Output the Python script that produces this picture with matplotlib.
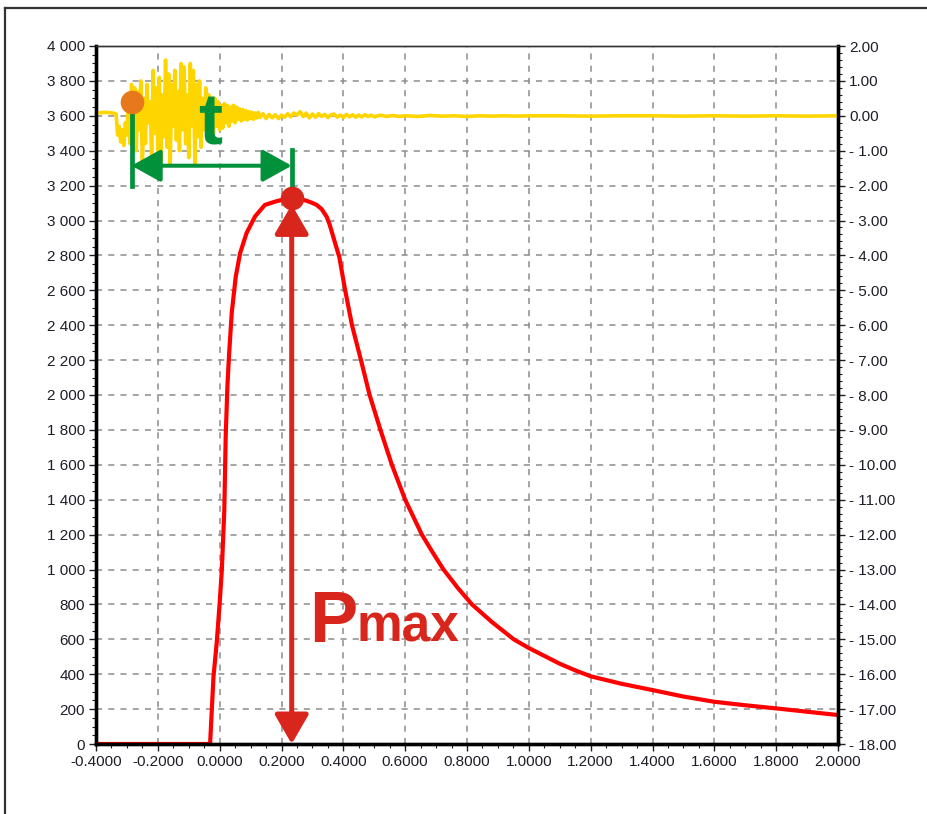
import matplotlib
matplotlib.use("Agg")
import matplotlib.pyplot as plt
from matplotlib.ticker import MultipleLocator, AutoMinorLocator, FuncFormatter
from matplotlib.lines import Line2D
import numpy as np

# pressure curve (left axis)
time_p = [-0.4, -0.031, -0.020, -0.0096, 0.0, 0.007, 0.015, 0.0195, 0.025, 0.030,
          0.039, 0.052, 0.066, 0.087, 0.114, 0.146, 0.179, 0.205, 0.233, 0.255,
          0.281, 0.298, 0.314, 0.330, 0.346, 0.356, 0.366, 0.376, 0.387, 0.396,
          0.406, 0.428, 0.457, 0.485, 0.520, 0.557, 0.600, 0.654, 0.690, 0.724,
          0.770, 0.816, 0.880, 0.951, 1.000, 1.050, 1.100, 1.150, 1.200, 1.300,
          1.400, 1.500, 1.600, 1.700, 1.800, 1.900, 2.000]
pressure = [0, 0, 386, 579, 808, 997, 1341, 1761, 2048, 2220,
            2470, 2678, 2812, 2928, 3022, 3089, 3108, 3120, 3129, 3125,
            3113, 3102, 3089, 3065, 3022, 2975, 2915, 2855, 2790, 2700,
            2600, 2400, 2200, 2000, 1800, 1600, 1400, 1200, 1095, 1000,
            895, 800, 700, 600, 550, 505, 460, 422, 388, 345,
            309, 272, 242, 222, 204, 185, 166]

# acoustic / vibration signal (right axis)
time_s = [-0.400, -0.370, -0.345, -0.335, -0.330, -0.325, -0.320, -0.315, -0.310, -0.305,
          -0.300, -0.295, -0.290, -0.285, -0.280, -0.275, -0.270, -0.265, -0.260, -0.255,
          -0.250, -0.245, -0.240, -0.235, -0.230, -0.225, -0.220, -0.215, -0.210, -0.205,
          -0.200, -0.195, -0.190, -0.185, -0.180, -0.175, -0.170, -0.165, -0.160, -0.155,
          -0.150, -0.145, -0.140, -0.135, -0.130, -0.125, -0.120, -0.115, -0.110, -0.105,
          -0.100, -0.095, -0.090, -0.085, -0.080, -0.075, -0.070, -0.065, -0.060, -0.055,
          -0.050, -0.045, -0.040, -0.035, -0.030, -0.025, -0.020, -0.015, -0.010, -0.005,
          0.000, 0.005, 0.010, 0.015, 0.020, 0.025, 0.030, 0.035, 0.040, 0.045,
          0.050, 0.055, 0.060, 0.065, 0.070, 0.075, 0.080, 0.085, 0.090, 0.095,
          0.100, 0.105, 0.110, 0.115, 0.120, 0.125, 0.130, 0.140, 0.150, 0.160,
          0.170, 0.180, 0.190, 0.200, 0.210, 0.220, 0.230, 0.240, 0.250, 0.260,
          0.270, 0.280, 0.290, 0.300, 0.310, 0.320, 0.330, 0.340, 0.350, 0.360,
          0.370, 0.380, 0.390, 0.400, 0.410, 0.420, 0.430, 0.440, 0.450, 0.460,
          0.470, 0.480, 0.490, 0.500, 0.520, 0.540, 0.560, 0.580, 0.600, 0.640,
          0.680, 0.720, 0.760, 0.800, 0.840, 0.880, 0.920, 0.960, 1.000, 1.100,
          1.200, 1.300, 1.400, 1.500, 1.600, 1.700, 1.800, 1.900, 2.000]
signal = [0.08, 0.10, 0.08, 0.05, -0.55, -0.30, -0.75, -0.40, -0.85, -0.20,
          -0.55, 0.60, -0.80, 0.90, -0.30, 0.80, -1.00, 0.70, -0.40, 1.00,
          -1.50, 0.50, -0.80, 0.90, -0.20, 0.40, -1.20, 1.30, -0.50, 0.80,
          -1.00, 1.10, -1.30, 0.60, -0.60, 1.60, -0.90, 1.20, -1.40, 0.90,
          -0.30, 1.30, -0.70, 0.70, -1.00, 1.50, -0.40, 1.40, -0.80, 0.60,
          -1.20, 1.50, -0.30, 1.30, -1.40, 0.90, -0.60, 1.00, -0.90, 0.50,
          -0.40, 0.80, -0.70, 0.60, -0.20, 0.45, -0.50, 0.50, -0.30, 0.40,
          -0.40, 0.30, -0.35, 0.35, -0.20, 0.30, -0.30, 0.25, -0.15, 0.30,
          -0.20, 0.25, -0.10, 0.20, -0.15, 0.18, -0.10, 0.15, -0.12, 0.12,
          -0.08, 0.10, -0.10, 0.08, -0.06, 0.10, -0.05, 0.06, -0.08, 0.04,
          -0.06, 0.03, -0.08, 0.02, -0.04, 0.06, -0.03, 0.08, 0.02, 0.12,
          -0.02, 0.08, -0.06, 0.05, -0.04, 0.06, -0.02, 0.04, -0.05, 0.03,
          0.05, -0.04, 0.02, -0.05, 0.04, -0.03, 0.03, -0.04, 0.02, -0.03,
          0.03, -0.02, 0.02, -0.03, 0.02, -0.02, 0.01, -0.02, 0.00, -0.02,
          0.01, -0.01, 0.00, -0.02, 0.00, -0.01, 0.00, -0.01, 0.00, 0.00,
          -0.01, 0.00, 0.00, -0.01, 0.00, -0.01, 0.00, -0.01, 0.00]

# annotation anchors
onset_t, onset_sig = -0.285, 0.40

RED_LINE = "#FF0000"
RED_ANN = "#D9261C"
GREEN = "#00913A"
ORANGE = "#E8781C"
YELLOW = "#FFD500"
TXT = "#1E1E28"

plt.rcParams['font.family'] = ['Liberation Sans Narrow', 'Liberation Sans', 'DejaVu Sans']

fig = plt.figure(figsize=(9.27, 8.14), dpi=100)
# outer frame: only the left and top edges show in the picture
top = 1 - 8 / 814
left = 5 / 927
fig.add_artist(Line2D([left, left], [0, top], transform=fig.transFigure, color="#333333", linewidth=1.6))
fig.add_artist(Line2D([left, 1], [top, top], transform=fig.transFigure, color="#333333", linewidth=1.6))

ax = fig.add_axes([96 / 927, 70 / 814, 742 / 927, 698 / 814])
ax2 = ax.twinx()

ax.set_xlim(-0.4, 2.0)
ax.set_ylim(0, 4000)
ax2.set_ylim(-18, 2)

ax.xaxis.set_major_locator(MultipleLocator(0.2))
ax.xaxis.set_minor_locator(MultipleLocator(0.05))
ax.yaxis.set_major_locator(MultipleLocator(200))
ax.yaxis.set_minor_locator(AutoMinorLocator(4))
ax2.yaxis.set_major_locator(MultipleLocator(1))
ax2.yaxis.set_minor_locator(AutoMinorLocator(5))

ax.xaxis.set_major_formatter(FuncFormatter(lambda v, p: f"{v:.4f}"))
ax.yaxis.set_major_formatter(FuncFormatter(lambda v, p: f"{int(round(v)):,}".replace(",", " ")))


def right_fmt(v, p):
    if v < -0.001:
        return f"- {abs(v):.2f}"
    return f"{abs(v):.2f}"


ax2.yaxis.set_major_formatter(FuncFormatter(right_fmt))

ax.grid(True, which="major", color="#8C8C8C", linestyle=(0, (4, 4)), linewidth=1.1)
ax.set_axisbelow(True)

for a in (ax, ax2):
    a.spines["left"].set_linewidth(2.4)
    a.spines["right"].set_linewidth(2.4)
    a.spines["bottom"].set_linewidth(2.4)
    a.spines["top"].set_linewidth(1.0)
    a.spines["top"].set_color("#333333")

ax.tick_params(axis="both", which="major", length=5, width=1, labelsize=11, colors=TXT, pad=3)
ax.tick_params(axis="both", which="minor", length=3, width=0.8, colors=TXT)
ax2.tick_params(axis="y", which="major", length=5, width=1, labelsize=11, colors=TXT, pad=3)
ax2.tick_params(axis="y", which="minor", length=3, width=0.8, colors=TXT)

# curves
ax.plot(time_p, pressure, color=RED_LINE, linewidth=3.0, solid_joinstyle="round")
ax2.plot(time_s, signal, color=YELLOW, linewidth=2.6)

# annotations (drawn on top axes, positioned in pressure units)
tr = ax.transData
peak_i = int(np.argmax(pressure))
peak_t, peak_p = time_p[peak_i], pressure[peak_i]
onset_p = (onset_sig + 18) * 200

ax2.plot([onset_t, onset_t], [3200, onset_p], color=GREEN, linewidth=3.4, transform=tr, zorder=4)
ax2.plot([peak_t, peak_t], [peak_p, 3404], color=GREEN, linewidth=3.4, transform=tr, zorder=4)
ax2.annotate("", xy=(peak_t, 3314), xytext=(onset_t, 3314), xycoords=tr, textcoords=tr,
             arrowprops=dict(arrowstyle="<|-|>,head_length=0.9,head_width=0.5", color=GREEN,
                             lw=2.9, shrinkA=0, shrinkB=0, mutation_scale=20), zorder=4)
ax2.plot([onset_t], [onset_p], "o", color=ORANGE, markersize=17, markeredgewidth=0,
         transform=tr, zorder=6)
ax2.text(-0.070, 3433, "t", color=GREEN, fontsize=52, fontweight="bold",
         family=["Liberation Sans", "DejaVu Sans"], transform=tr, ha="left", va="baseline", zorder=5)

ax2.annotate("", xy=(peak_t, 0), xytext=(peak_t, 3092), xycoords=tr, textcoords=tr,
             arrowprops=dict(arrowstyle="<|-|>,head_length=0.9,head_width=0.52", color=RED_ANN,
                             lw=3.6, shrinkA=0, shrinkB=0, mutation_scale=20), zorder=5)
ax2.plot([peak_t], [peak_p], "o", color=RED_ANN, markersize=17, markeredgewidth=0,
         transform=tr, zorder=6)
ax2.text(0.290, 585, "P", color=RED_ANN, fontsize=52, fontweight="bold",
         family=["Liberation Sans", "DejaVu Sans"], transform=tr, ha="left", va="baseline", zorder=5)
ax2.text(0.442, 585, "max", color=RED_ANN, fontsize=37, fontweight="bold",
         family=["Liberation Sans", "DejaVu Sans"], transform=tr, ha="left", va="baseline", zorder=5)

fig.savefig("out.png", dpi=100)
